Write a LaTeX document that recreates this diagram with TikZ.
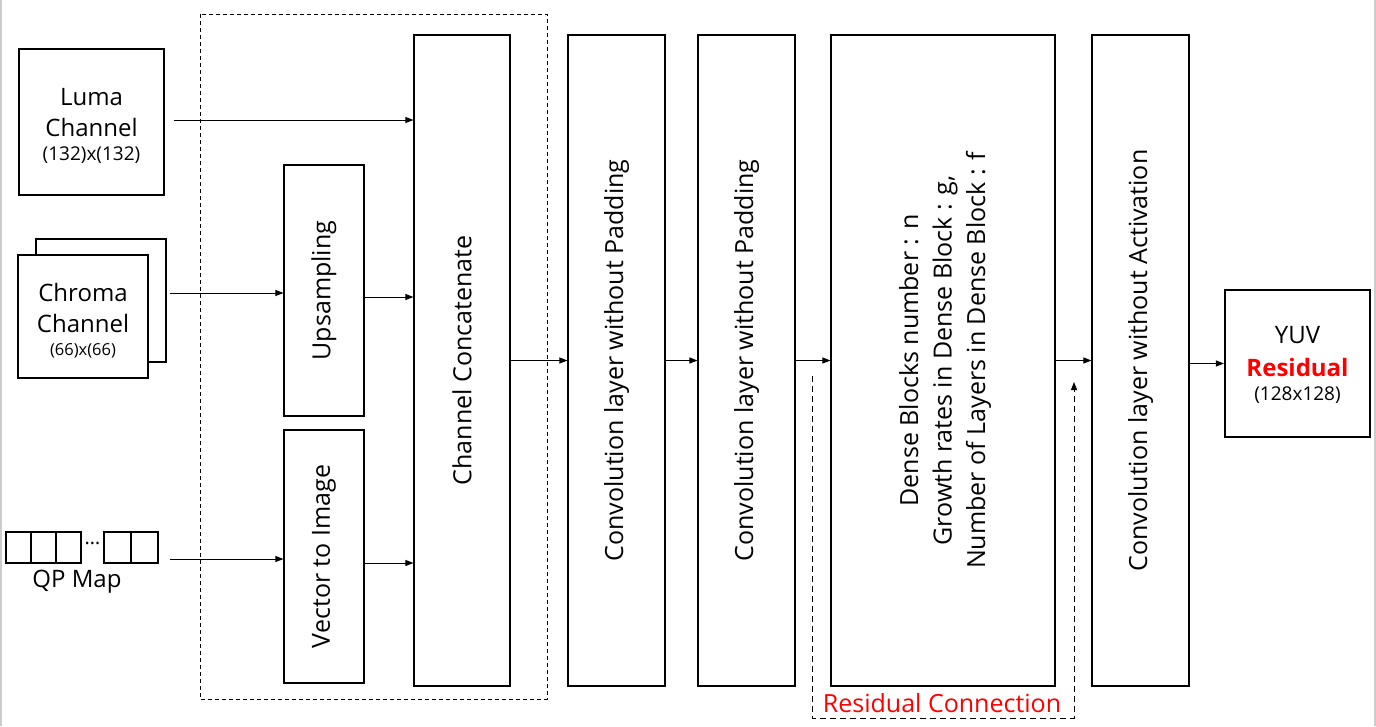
\documentclass[tikz,border=0pt]{standalone}
\usepackage{fontspec}
\setmainfont{Open Sans}
\usetikzlibrary{arrows.meta}
\begin{document}
\begin{tikzpicture}[x=1pt,y=-1pt,
  blk/.style={draw, line width=1.1pt, inner sep=0pt, fill=white},
  io/.style={draw, line width=2.2pt, inner sep=0pt, fill=white, align=center},
  vt/.style={rotate=90, align=center, font=\fontsize{25}{33.5}\selectfont},
  big/.style={font=\fontsize{24}{31}\selectfont},
  sm/.style={font=\fontsize{19}{21}\selectfont},
  arr/.style={-{Triangle[length=8pt,width=6pt]}, line width=1pt},
  qpcell/.style={draw, line width=1.4pt, minimum width=25pt, minimum height=31pt, inner sep=0pt}]
\useasboundingbox (0,0) rectangle (1376,726);
\fill[white] (0,0) rectangle (1376,726);
\draw[black!20, line width=2pt] (1,0) -- (1,726);
\draw[black!20, line width=2pt] (1375,0) -- (1375,726);

% dashed group
\draw[dash pattern=on 4pt off 3pt, line width=1pt] (200,14) rectangle (547,699);

% inputs
\node[io, minimum width=145pt, minimum height=146pt] (luma) at (91.5,122) {};
\node[big] (lumat1) at (91.5,97) {Luma};
\node[big] (lumat2) at (91.5,127) {Channel};
\node[sm] (lumat3) at (91.5,155) {(132)x(132)};

\node[io, minimum width=130pt, minimum height=123pt] (chromab) at (101,300.5) {};
\node[io, minimum width=130pt, minimum height=123pt] (chroma) at (83,316.5) {};
\node[big] (chrt1) at (83,292) {Chroma};
\node[big] (chrt2) at (83,323) {Channel};
\node[font=\fontsize{16.5}{18}\selectfont] (chrt3) at (83,351) {(66)x(66)};

\node[qpcell] (q1) at (18.5,547.5) {};
\node[qpcell] (q2) at (43.5,547.5) {};
\node[qpcell] (q3) at (68.5,547.5) {};
\node[inner sep=0pt, font=\fontsize{20}{20}\selectfont] (qdots) at (92.5,543) {…};
\node[qpcell, minimum width=27pt] (q4) at (117.5,547.5) {};
\node[qpcell, minimum width=27pt] (q5) at (144.5,547.5) {};
\node[font=\fontsize{24}{26}\selectfont] (qplabel) at (77,582) {QP Map};

% processing blocks
\node[blk, minimum width=80pt, minimum height=251pt] (up) at (324,290.5) {};
\node[vt] (upt) at (up.center) {Upsampling};
\node[blk, minimum width=80pt, minimum height=253pt] (vec) at (324,556.5) {};
\node[vt] (vect) at (vec.center) {Vector to Image};
\node[blk, minimum width=96pt, minimum height=651pt] (concat) at (462,360.5) {};
\node[vt] (concatt) at (concat.center) {Channel Concatenate};
\node[blk, minimum width=97pt, minimum height=651pt] (conv1) at (616.5,360.5) {};
\node[vt] (conv1t) at (conv1.center) {Convolution layer without Padding};
\node[blk, minimum width=97pt, minimum height=651pt] (conv2) at (746.5,360.5) {};
\node[vt] (conv2t) at (conv2.center) {Convolution layer without Padding};
\node[blk, minimum width=224pt, minimum height=651pt] (dense) at (943,360.5) {};
\node[vt] (denset) at (945,360.5) {Dense Blocks number : n\\Growth rates in Dense Block : g,\\Number of Layers in Dense Block : f};
\node[blk, minimum width=97pt, minimum height=651pt] (conv3) at (1140.5,360.5) {};
\node[vt] (conv3t) at (conv3.center) {Convolution layer without Activation};

\node[io, minimum width=145pt, minimum height=147pt] (yuv) at (1297.5,363.5) {};
\node[big] (yuvt1) at (1297.5,335) {YUV};
\node[big, text=red] (yuvt2) at (1297.5,367) {\bfseries Residual};
\node[sm] (yuvt3) at (1297.5,395) {(128x128)};

% connectors
\coordinate (lumaout) at (174,120);
\coordinate (chromaout) at (170,293);
\coordinate (qpout) at (170,559);
\draw[arr] (lumaout) -- (lumaout -| concat.west);
\draw[arr] (chromaout) -- (chromaout -| up.west);
\draw[arr] (qpout) -- (qpout -| vec.west);
\draw[arr] ([yshift=-6.5pt]up.east) -- ([yshift=-6.5pt]up.east -| concat.west);
\draw[arr] ([yshift=-6.5pt]vec.east) -- ([yshift=-6.5pt]vec.east -| concat.west);
\draw[arr] (concat.east) -- (conv1.west);
\draw[arr] (conv1.east) -- (conv2.west);
\draw[arr] (conv2.east) -- (dense.west);
\draw[arr] (dense.east) -- (conv3.west);
\draw[arr] (yuv.west -| conv3.east) -- (yuv.west);

% residual connection
\coordinate (rs) at (812,376);
\coordinate (rb) at (1074,718);
\coordinate (re) at (1074,382);
\draw[arr, dash pattern=on 6pt off 4pt] (rs) |- (rb) -- (re);
\node[font=\fontsize{25}{27}\selectfont, text=red, inner sep=1pt] (rlabel) at (942,703) {Residual Connection};
\end{tikzpicture}
\end{document}
